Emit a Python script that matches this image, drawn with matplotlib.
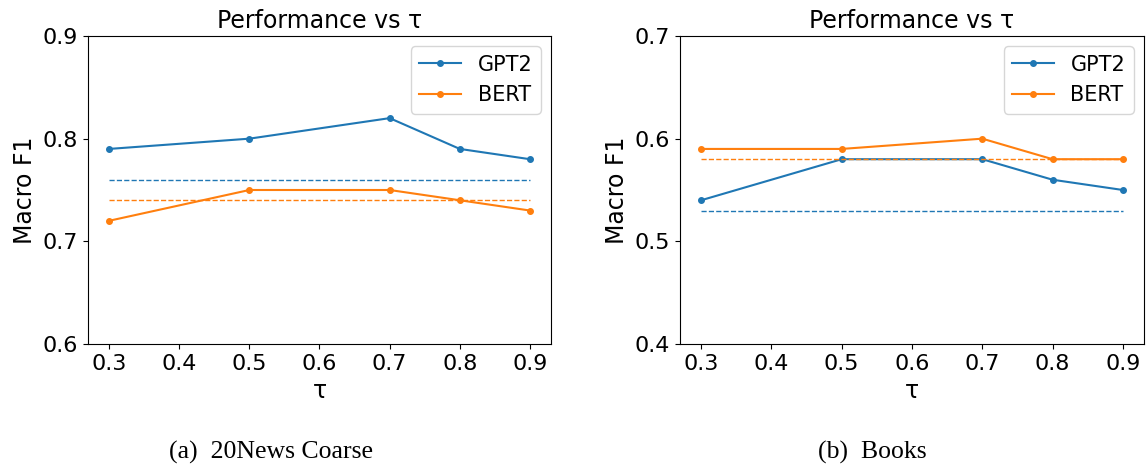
import numpy as np
import matplotlib.pyplot as plt

# valores de tau
tau = [0.3, 0.5, 0.7, 0.8, 0.9]

# 20News Coarse
news_gpt2 = [0.79, 0.80, 0.82, 0.79, 0.78]
news_bert = [0.72, 0.75, 0.75, 0.74, 0.73]
news_base_gpt2 = 0.76
news_base_bert = 0.74

# Books
books_gpt2 = [0.54, 0.58, 0.58, 0.56, 0.55]
books_bert = [0.59, 0.59, 0.60, 0.58, 0.58]
books_base_gpt2 = 0.53
books_base_bert = 0.58

xticks = [0.3, 0.4, 0.5, 0.6, 0.7, 0.8, 0.9]

W, H = 1146, 468
fig = plt.figure(figsize=(W / 100, H / 100), dpi=100)
ax1 = fig.add_axes([88/W, (H - 344)/H, 463/W, 308/H])
ax2 = fig.add_axes([680/W, (H - 344)/H, 464/W, 308/H])

paneles = [
    (ax1, news_gpt2, news_bert, news_base_gpt2, news_base_bert, (0.6, 0.9)),
    (ax2, books_gpt2, books_bert, books_base_gpt2, books_base_bert, (0.4, 0.7)),
]

for ax, gpt2, bert, bg, bb, ylim in paneles:
    ax.plot(tau, gpt2, marker="o", markersize=4, color="#1f77b4", label="GPT2")
    ax.plot(tau, bert, marker="o", markersize=4, color="#ff7f0e", label="BERT")
    ax.hlines(bg, tau[0], tau[-1], colors="#1f77b4", linestyles="dashed", linewidth=1)
    ax.hlines(bb, tau[0], tau[-1], colors="#ff7f0e", linestyles="dashed", linewidth=1)
    ax.set_xlim(0.27, 0.93)
    ax.set_ylim(*ylim)
    ax.set_xticks(xticks)
    ax.set_yticks(np.arange(ylim[0], ylim[1] + 0.001, 0.1))
    ax.tick_params(labelsize=16)
    ax.set_xlabel("τ", fontsize=17)
    ax.set_ylabel("Macro F1", fontsize=17)
    ax.set_title("Performance vs τ", fontsize=17)
    ax.legend(fontsize=15, loc="upper right")

# subtitulos
fig.text(271/W, 1 - 452/H, "(a)  20News Coarse", ha="center", va="center",
         fontsize=18.5, family="Liberation Serif")
fig.text(872/W, 1 - 452/H, "(b)  Books", ha="center", va="center",
         fontsize=18.5, family="Liberation Serif")

fig.savefig("out.png", dpi=100)
